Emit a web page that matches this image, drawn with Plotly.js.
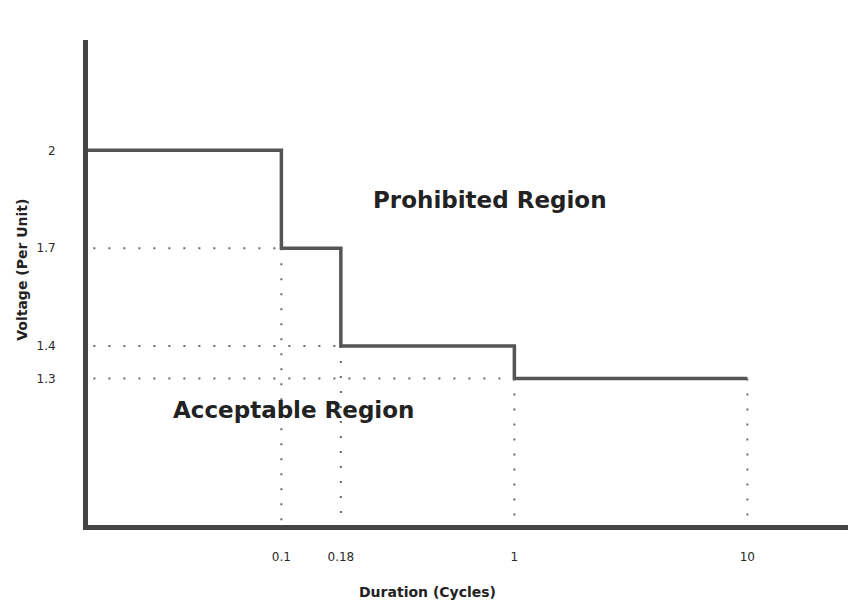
<!DOCTYPE html>
<html>
<head>
<meta charset="utf-8">
<script src="https://cdn.plot.ly/plotly-3.0.1.min.js"></script>
<style>html,body{margin:0;padding:0;background:#fff;}#chart{width:848px;height:601px;}</style>
</head>
<body>
<div id="chart"></div>
<script>
// Voltage tolerance curve: duration (cycles) vs voltage (per unit)
const stepDurations = [0.01, 0.1, 0.1, 0.18, 0.18, 1, 1, 10];
const stepVoltages  = [2, 2, 1.7, 1.7, 1.4, 1.4, 1.3, 1.3];

const refDurations = [0.1, 0.18, 1, 10];
const refVoltages  = [1.7, 1.4, 1.3, 1.3];
const axisStart = 0.01;
const axisFloor = 0.5;

const xTickVals = [0.1, 0.18, 1, 10];
const xTickText = ['0.1', '0.18', '1', '10'];
const yTickVals = [1.3, 1.4, 1.7, 2];
const yTickText = ['1.3', '1.4', '1.7', '2'];

const dotStyle = {color: '#6a6a6a', width: 2, dash: '2px,13px'};
const traces = [];
// horizontal dotted guides (from y-axis to the corner)
for (let i = 0; i < 3; i++) {
  traces.push({x: [axisStart, refDurations[i]], y: [refVoltages[i], refVoltages[i]],
    mode: 'lines', line: dotStyle, hoverinfo: 'skip', showlegend: false});
}
// vertical dotted guides (from corner down to x-axis)
for (let i = 0; i < refDurations.length; i++) {
  traces.push({x: [refDurations[i], refDurations[i]], y: [refVoltages[i], axisFloor],
    mode: 'lines', line: dotStyle, hoverinfo: 'skip', showlegend: false});
}
// main step curve
traces.push({x: stepDurations, y: stepVoltages, mode: 'lines',
  line: {color: '#555555', width: 3.5}, showlegend: false});

const layout = {
  width: 848, height: 601,
  margin: {l: 88, r: 0, t: 40, b: 76},
  paper_bgcolor: '#ffffff', plot_bgcolor: '#ffffff',
  font: {family: 'DejaVu Sans, Verdana, sans-serif', color: '#333'},
  xaxis: {
    type: 'log', range: [-1.83, 1.432],
    showgrid: false, zeroline: false,
    showline: true, linecolor: '#454545', linewidth: 5,
    ticks: '', tickvals: xTickVals, ticktext: xTickText,
    tickfont: {size: 12, color: '#2a2a2a'}, ticklabelstandoff: 17
  },
  yaxis: {
    range: [0.851, 2.3385],
    showgrid: false, zeroline: false,
    showline: true, linecolor: '#454545', linewidth: 5,
    ticks: '', tickvals: yTickVals, ticktext: yTickText,
    tickfont: {size: 12, color: '#2a2a2a'}, ticklabelstandoff: 25
  },
  annotations: [
    {text: '<b>Prohibited Region</b>', xref: 'paper', yref: 'paper', x: 0.529, y: 0.670,
     xanchor: 'center', yanchor: 'middle',
     showarrow: false, font: {size: 23, color: '#222'}},
    {text: '<b>Acceptable Region</b>', xref: 'paper', yref: 'paper', x: 0.270, y: 0.237,
     xanchor: 'center', yanchor: 'middle',
     showarrow: false, font: {size: 23, color: '#222'}},
    {text: '<b>Duration (Cycles)</b>', xref: 'paper', yref: 'paper', x: 0.447, y: -0.138,
     xanchor: 'center', yanchor: 'middle',
     showarrow: false, font: {size: 14, color: '#222'}},
    {text: '<b>Voltage (Per Unit)</b>', xref: 'paper', yref: 'paper', x: -0.087, y: 0.526,
     xanchor: 'center', yanchor: 'middle',
     showarrow: false, textangle: -90, font: {size: 14, color: '#222'}}
  ]
};

Plotly.newPlot('chart', traces, layout, {staticPlot: true, displayModeBar: false});
</script>
</body>
</html>
